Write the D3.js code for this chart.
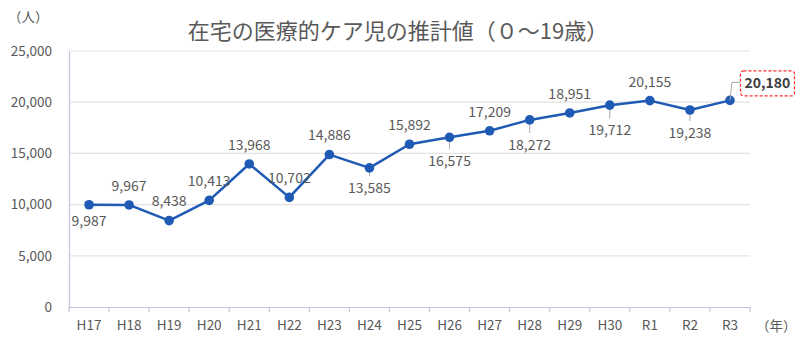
<!DOCTYPE html>
<html><head><meta charset="utf-8">
<script src="https://cdn.jsdelivr.net/npm/d3@7"></script>
<style>body{margin:0;background:#fff;} svg{display:block;}</style>
</head><body>
<svg id="c" width="800" height="341"></svg>
<script>
const categories = ["H17","H18","H19","H20","H21","H22","H23","H24","H25","H26","H27","H28","H29","H30","R1","R2","R3"];
const values = [9987,9967,8438,10413,13968,10702,14886,13585,15892,16575,17209,18272,18951,19712,20155,19238,20180];
const yTicks = [0,5000,10000,15000,20000,25000];
const title = "在宅の医療的ケア児の推計値（０～19歳）";
const yUnit = "（人）";
const xUnit = "（年）";

const below = new Set(["H17","H24","H26","H28","H30","R2"]);
const leader = new Set(["H24","H26","H28","H30","R2"]);
const highlight = "R3";

const svg = d3.select("#c");
const font = "'Noto Sans CJK JP','Noto Sans',sans-serif";
const txt = "#595959";
const lineColor = "#1f5ab4";

const x = d3.scaleBand().domain(categories).range([69, 750]);
const y = d3.scaleLinear().domain([0, 25000]).range([307, 51]);

// grid
svg.append("g").selectAll("line").data(yTicks.filter(d => d > 0)).join("line")
  .attr("x1", 69).attr("x2", 750).attr("y1", d => y(d)).attr("y2", d => y(d))
  .attr("stroke", "#e3e3e3").attr("stroke-width", 1.2);

// y axis
const yAxis = svg.append("g").attr("transform", "translate(69,0)")
  .call(d3.axisLeft(y).tickValues(yTicks).tickFormat(d3.format(",")).tickSize(0).tickPadding(17));
yAxis.select(".domain").attr("stroke", "#c3c3dd").attr("stroke-width", 1.2);
yAxis.selectAll("text").attr("fill", txt).style("font-family", font).style("font-size", "13.5px");

// x axis
const xAxis = svg.append("g").attr("transform", "translate(0,307)")
  .call(d3.axisBottom(x).tickSize(0).tickPadding(13));
xAxis.select(".domain").attr("stroke", "#c3c3dd").attr("stroke-width", 1.2);
xAxis.selectAll("text").attr("fill", txt).style("font-family", font).style("font-size", "13.5px");
// boundary ticks
const bounds = categories.map(c => x(c)).concat([x.range()[1]]);
svg.append("g").selectAll("line").data(bounds).join("line")
  .attr("x1", d => d).attr("x2", d => d).attr("y1", 307).attr("y2", 312)
  .attr("stroke", "#c3c3dd").attr("stroke-width", 1.2);

const cx = c => x(c) + x.bandwidth() / 2;
const data = categories.map((c, i) => ({c, v: values[i]}));

// leader lines
const belowOffset = {H17: 16, H24: 20, H26: 24, H28: 25, H30: 25, R2: 23};
svg.append("g").selectAll("line").data(data.filter(d => leader.has(d.c))).join("line")
  .attr("x1", d => cx(d.c)).attr("x2", d => cx(d.c))
  .attr("y1", d => y(d.v)).attr("y2", d => y(d.v) + belowOffset[d.c] - 12)
  .attr("stroke", "#a6a6a6").attr("stroke-width", 1);

// line
svg.append("path").datum(data)
  .attr("d", d3.line().x(d => cx(d.c)).y(d => y(d.v)))
  .attr("fill", "none").attr("stroke", lineColor).attr("stroke-width", 2.5).attr("stroke-linejoin", "round");

svg.append("g").selectAll("circle").data(data).join("circle")
  .attr("cx", d => cx(d.c)).attr("cy", d => y(d.v)).attr("r", 4.8).attr("fill", lineColor);

// labels
const fmt = d3.format(",");
svg.append("g").selectAll("text").data(data.filter(d => d.c !== highlight)).join("text")
  .attr("x", d => cx(d.c))
  .attr("y", d => below.has(d.c) ? y(d.v) + belowOffset[d.c] : y(d.v) - 19)
  .attr("dy", "0.35em").attr("text-anchor", "middle")
  .attr("fill", txt).style("font-family", font).style("font-size", "14px")
  .text(d => fmt(d.v));

// highlighted label
const h = data.find(d => d.c === highlight);
const hx = cx(h.c), hy = y(h.v);
svg.append("polyline")
  .attr("points", `${hx},${hy} ${hx + 2},${hy - 18} ${hx + 10},${hy - 18}`)
  .attr("fill", "none").attr("stroke", "#a6a6a6").attr("stroke-width", 1);
svg.append("rect").attr("x", hx + 10.5).attr("y", hy - 29.5).attr("width", 54).attr("height", 25).attr("rx", 3)
  .attr("fill", "#fff").attr("stroke", "#ff2a2a").attr("stroke-width", 1.2).attr("stroke-dasharray", "3,2");
svg.append("text").attr("x", hx + 37.5).attr("y", hy - 17).attr("dy", "0.35em").attr("text-anchor", "middle")
  .attr("fill", "#404040").style("font-family", font).style("font-size", "14px").style("font-weight", "bold")
  .text(fmt(h.v));

// title & units
svg.append("text").attr("x", 398).attr("y", 31).attr("dy", "0.35em").attr("text-anchor", "middle")
  .attr("fill", txt).style("font-family", font).style("font-size", "22px").text(title);
svg.append("text").attr("x", 8).attr("y", 17).attr("dy", "0.35em")
  .attr("fill", txt).style("font-family", font).style("font-size", "13.5px").text(yUnit);
svg.append("text").attr("x", 756).attr("y", 326).attr("dy", "0.35em")
  .attr("fill", txt).style("font-family", font).style("font-size", "13.5px").text(xUnit);
</script>
</body></html>
